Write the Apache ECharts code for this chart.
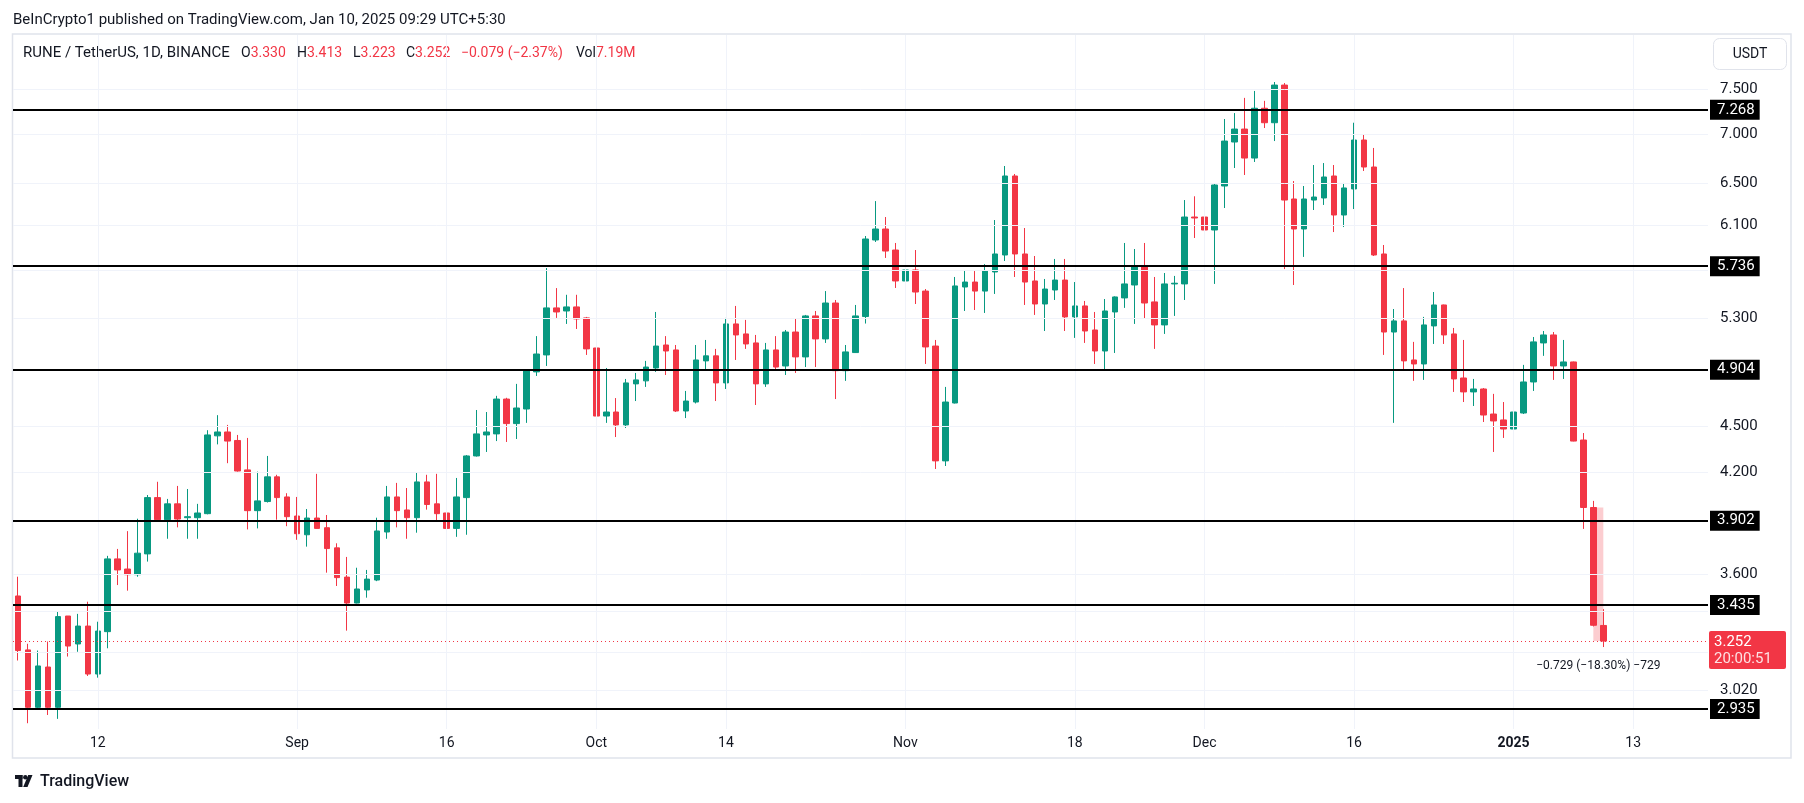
<!DOCTYPE html>
<html>
<head>
<meta charset="utf-8">
<script src="https://cdn.jsdelivr.net/npm/echarts/dist/echarts.min.js"></script>
<style>html,body{margin:0;padding:0;background:#fff;}#c{width:1804px;height:803px;}</style>
</head>
<body>
<div id="c"></div>
<script>
// ---------- DATA ----------
const startDay = [2024, 7, 4];      // 2024-08-04 (month 0-based)
const dayCount = 170;               // category slots up to 2025-01-20
const dates = [];
for (let i = 0; i < dayCount; i++) {
  const d = new Date(Date.UTC(startDay[0], startDay[1], startDay[2]) + i * 86400000);
  dates.push(d.toISOString().slice(0, 10));
}
const opens = [
3.482,3.209,2.942,3.127,2.942,3.378,3.238,3.327,3.094,3.299,
3.683,3.627,3.596,3.711,4.041,3.908,4.003,3.920,3.920,3.944,
4.437,4.463,4.406,4.214,3.962,4.017,4.170,4.045,3.930,3.820,
3.918,3.861,3.745,3.583,3.445,3.514,3.567,3.836,4.045,3.966,
3.920,4.138,4.003,3.948,3.857,4.041,4.304,4.443,4.450,4.691,
4.520,4.621,4.888,5.015,5.385,5.360,5.393,5.304,5.068,4.572,
4.600,4.511,4.800,4.822,4.917,5.091,5.053,4.607,4.670,4.970,
5.008,4.807,5.256,5.177,5.107,4.800,5.053,4.932,5.192,5.000,
5.320,5.138,5.425,4.897,5.033,5.315,5.968,6.068,5.878,5.609,
5.703,5.524,5.083,4.272,4.663,5.558,5.600,5.524,5.686,5.834,
6.575,5.843,5.609,5.417,5.533,5.617,5.312,5.401,5.208,5.045,
5.352,5.467,5.575,5.737,5.434,5.248,5.584,5.584,6.179,6.179,
6.059,6.476,6.922,7.059,6.756,7.285,7.127,7.545,6.350,6.068,
6.340,6.360,6.575,6.198,6.447,6.943,6.665,5.843,5.192,5.280,
4.977,4.947,5.240,5.409,5.177,4.843,4.742,4.763,4.586,4.545,
4.483,4.593,4.814,5.107,5.169,4.932,4.962,4.409,3.981,3.330];
const closes = [
3.206,2.942,3.132,2.942,3.375,3.228,3.327,3.094,3.302,3.683,
3.622,3.596,3.715,4.041,3.908,4.003,3.912,3.926,3.948,4.443,
4.463,4.402,4.207,3.962,4.021,4.170,4.041,3.926,3.826,3.918,
3.857,3.741,3.580,3.445,3.519,3.572,3.842,4.045,3.962,3.920,
4.138,3.999,3.944,3.857,4.045,4.304,4.450,4.463,4.691,4.520,
4.628,4.895,5.022,5.385,5.352,5.393,5.296,5.061,4.572,4.600,
4.511,4.807,4.829,4.924,5.083,5.045,4.607,4.677,4.977,5.008,
4.807,5.256,5.169,5.099,4.800,5.053,4.924,5.192,5.000,5.320,
5.138,5.425,4.897,5.038,5.320,5.977,6.068,5.869,5.609,5.703,
5.516,5.076,4.272,4.670,5.567,5.600,5.524,5.694,5.843,6.575,
5.843,5.600,5.417,5.541,5.617,5.312,5.401,5.200,5.045,5.360,
5.475,5.584,5.737,5.425,5.248,5.584,5.590,6.179,6.170,6.059,
6.486,6.932,7.059,6.756,7.285,7.127,7.545,6.340,6.068,6.350,
6.369,6.565,6.198,6.457,6.943,6.665,5.834,5.192,5.280,4.970,
4.947,5.248,5.409,5.169,4.836,4.742,4.763,4.579,4.538,4.483,
4.600,4.814,5.115,5.169,4.932,4.962,4.402,3.981,3.331,3.252];
const lows = [
3.158,2.872,2.935,2.908,2.891,3.177,3.200,3.085,3.077,3.217,
3.540,3.510,3.585,3.668,3.905,3.797,3.863,3.797,3.797,3.940,
4.380,4.257,4.203,3.851,3.857,4.011,3.908,3.870,3.791,3.752,
3.855,3.607,3.535,3.304,3.443,3.473,3.561,3.797,3.863,3.797,
3.832,3.968,3.902,3.802,3.808,3.820,4.300,4.330,4.402,4.396,
4.416,4.525,4.858,4.932,5.304,5.256,5.216,5.015,4.490,4.525,
4.429,4.490,4.677,4.778,4.888,4.865,4.600,4.558,4.660,4.895,
4.677,4.763,4.977,5.061,4.649,4.778,4.909,4.865,4.880,4.924,
4.924,5.107,4.691,4.822,5.030,5.259,5.950,5.808,5.550,5.476,
5.417,4.947,4.220,4.239,4.660,5.360,5.368,5.344,5.500,5.781,
5.643,5.409,5.328,5.200,5.450,5.200,5.146,5.107,4.947,4.909,
5.030,5.385,5.256,5.296,5.061,5.177,5.320,5.450,5.986,5.941,
5.584,6.264,6.655,6.585,6.716,7.070,6.932,5.711,5.575,5.817,
6.245,6.293,6.040,6.086,6.254,6.625,5.825,5.015,4.525,4.909,
4.822,4.829,5.099,5.099,4.742,4.670,4.642,4.531,4.330,4.423,
4.337,4.586,4.749,5.008,4.829,4.836,4.400,3.854,3.325,3.223];
const highs = [
3.585,3.239,3.206,3.250,3.400,3.378,3.389,3.452,3.349,3.700,
3.739,3.841,3.914,4.057,4.139,4.033,4.113,4.094,4.003,4.475,
4.578,4.511,4.443,4.423,4.203,4.304,4.183,4.068,4.045,3.972,
4.189,3.936,3.771,3.694,3.634,3.622,3.920,4.113,4.132,4.100,
4.195,4.183,4.189,4.063,4.163,4.310,4.614,4.600,4.714,4.700,
4.800,4.909,5.160,5.720,5.549,5.493,5.493,5.312,5.376,4.917,
4.698,4.836,4.880,4.970,5.352,5.160,5.091,4.749,5.091,5.130,
5.061,5.304,5.401,5.288,5.169,5.107,5.160,5.208,5.296,5.328,
5.360,5.524,5.450,5.091,5.409,6.004,6.330,6.179,5.941,5.834,
5.878,5.541,5.130,4.778,5.643,5.703,5.694,5.754,6.151,6.675,
6.595,6.077,5.825,5.626,5.799,5.799,5.600,5.442,5.352,5.458,
5.480,5.941,5.887,5.941,5.643,5.677,5.652,6.340,6.376,6.254,
6.496,7.167,7.232,7.400,7.478,7.367,7.580,7.568,6.525,6.476,
6.685,6.705,6.685,6.506,7.127,6.996,6.860,5.923,5.376,5.549,
5.115,5.312,5.516,5.412,5.224,5.130,4.836,4.770,4.728,4.670,
4.642,4.940,5.153,5.200,5.192,5.130,4.965,4.456,4.021,3.413];

const levels = [7.268, 5.736, 4.904, 3.902, 3.435, 2.935];
const yGridTicks = [7.5, 7.0, 6.5, 6.1, 5.7, 5.3, 4.9, 4.5, 4.2, 3.9, 3.6, 3.4, 3.2, 3.02];
const yLabelTicks = [7.5, 7.0, 6.5, 6.1, 5.3, 4.5, 4.2, 3.6, 3.02];
const xTicks = ['2024-08-12','2024-09-01','2024-09-16','2024-10-01','2024-10-14','2024-11-01','2024-11-18','2024-12-01','2024-12-16','2025-01-01','2025-01-13'];
const xTickLabels = ['12','Sep','16','Oct','14','Nov','18','Dec','16','2025','13'];
const measureFrom = ['2025-01-09', 3.981];
const measureTo = ['2025-01-10', 3.252];
const measureText = '\u22120.729 (\u221218.30%) \u2212729';
const countdownText = '20:00:51';
const volText = '7.19M';
const titleText = 'BeInCrypto1 published on TradingView.com, Jan 10, 2025 09:29 UTC+5:30';
const symbolText = 'RUNE / TetherUS, 1D, BINANCE';

// ---------- CHART ----------
const UP = '#089981', DOWN = '#F23645', INK = '#131722', GRID = '#f0f3fa';
const FONT = 'Roboto';
const candles = opens.map((o, i) => [o, closes[i], lows[i], highs[i]]);
const xLabelMap = {};
xTicks.forEach((d, i) => { xLabelMap[d] = xTickLabels[i]; });

const chart = echarts.init(document.getElementById('c'), null, { renderer: 'canvas', width: 1804, height: 803 });

chart.setOption({
  animation: false,
  backgroundColor: '#ffffff',
  grid: { left: 13, right: 96, top: 35, bottom: 74, containLabel: false },
  xAxis: {
    type: 'category',
    data: dates,
    boundaryGap: true,
    axisLine: { show: false },
    axisTick: { show: false },
    splitLine: { show: false },
    axisLabel: {
      interval: (i, v) => xLabelMap[v] !== undefined,
      formatter: (v) => v === '2025-01-01' ? '{b|2025}' : (xLabelMap[v] || ''),
      color: INK, fontSize: 14, fontFamily: FONT, margin: 7,
      rich: { b: { fontWeight: 'bold', fontSize: 14, fontFamily: FONT, color: INK } }
    }
  },
  yAxis: {
    type: 'log',
    logBase: 10,
    min: 2.847,
    max: 8.139,
    position: 'right',
    axisLine: { show: false },
    axisTick: { show: false },
    axisLabel: { show: false },
    splitLine: { show: false }
  },
  series: [
    {
      name: 'grid',
      type: 'line',
      data: [],
      z: 1,
      silent: true,
      markLine: {
        silent: true,
        symbol: 'none',
        animation: false,
        precision: 3,
        lineStyle: { color: GRID, width: 1, type: 'solid' },
        data: yGridTicks.map(v => ({
          yAxis: v,
          label: {
            show: yLabelTicks.indexOf(v) >= 0,
            position: 'end', distance: 12,
            formatter: v.toFixed(3),
            color: INK, fontSize: 15, fontFamily: FONT
          }
        })).concat(xTicks.map(d => ({ xAxis: d, label: { show: false } })))
      }
    },
    {
      name: 'RUNE',
      type: 'candlestick',
      data: candles,
      z: 3,
      barWidth: 6,
      itemStyle: { color: UP, color0: DOWN, borderColor: UP, borderColor0: DOWN, borderWidth: 1 },
      markLine: {
        silent: true,
        symbol: 'none',
        animation: false,
        precision: 3,
        data: [{ yAxis: closes[closes.length - 1] }],
        lineStyle: { color: DOWN, width: 1, type: [1, 3] },
        label: { show: false }
      },
      markArea: {
        silent: true,
        itemStyle: { color: 'rgba(242,54,69,0.25)' },
        label: {
          show: true, position: 'bottom', distance: 19,
          formatter: measureText, color: INK, fontSize: 12, fontFamily: FONT
        },
        data: [[{ coord: measureFrom }, { coord: measureTo }]]
      }
    },
    {
      name: 'levels',
      type: 'line',
      data: [],
      z: 5,
      silent: true,
      markLine: {
        silent: true,
        symbol: 'none',
        animation: false,
        precision: 3,
        lineStyle: { color: '#000000', width: 2, type: 'solid' },
        label: {
          show: true, position: 'end', distance: 2,
          formatter: '{b}',
          color: '#ffffff', backgroundColor: '#000000',
          padding: [3, 5, 2, 7], fontSize: 15, fontFamily: FONT
        },
        data: levels.map(v => ({ yAxis: v, name: v.toFixed(3) }))
      }
    }
  ]
});

// ---------- Texts & frame (positions from the scale) ----------
const last = closes.length - 1;
const priceY = chart.convertToPixel({ yAxisIndex: 0 }, closes[last]);
const chg = closes[last] - closes[last - 1];
const pct = chg / closes[last - 1] * 100;
const fmtSigned = (v, d) => (v < 0 ? '\u2212' : '+') + Math.abs(v).toFixed(d);
const redRich = { k: { fill: INK, color: INK, fontSize: 14, fontFamily: FONT }, v: { fill: DOWN, color: DOWN, fontSize: 14, fontFamily: FONT } };
const LY = 53;

chart.setOption({
  graphic: [
    { type: 'rect', z: -10, silent: true, shape: { x: 12.5, y: 34, width: 1778.5, height: 724 }, style: { fill: 'none', stroke: '#e0e3eb', lineWidth: 1.5 } },
    { type: 'text', x: 13, y: 20, silent: true, style: { text: titleText, fill: INK, fontSize: 15, fontFamily: FONT, verticalAlign: 'middle' } },
    { type: 'text', x: 23, y: LY, silent: true, style: { text: symbolText, fill: INK, fontSize: 15, fontFamily: FONT, verticalAlign: 'middle' } },
    { type: 'text', x: 241, y: LY, silent: true, style: { text: '{k|O}{v|' + opens[last].toFixed(3) + '}', rich: redRich, verticalAlign: 'middle' } },
    { type: 'text', x: 297, y: LY, silent: true, style: { text: '{k|H}{v|' + highs[last].toFixed(3) + '}', rich: redRich, verticalAlign: 'middle' } },
    { type: 'text', x: 353, y: LY, silent: true, style: { text: '{k|L}{v|' + lows[last].toFixed(3) + '}', rich: redRich, verticalAlign: 'middle' } },
    { type: 'text', x: 406, y: LY, silent: true, style: { text: '{k|C}{v|' + closes[last].toFixed(3) + '}', rich: redRich, verticalAlign: 'middle' } },
    { type: 'text', x: 461, y: LY, silent: true, style: { text: '{v|' + fmtSigned(chg, 3) + ' (' + fmtSigned(pct, 2) + '%)}', rich: redRich, verticalAlign: 'middle' } },
    { type: 'text', x: 576, y: LY, silent: true, style: { text: '{k|Vol}{v|' + volText + '}', rich: redRich, verticalAlign: 'middle' } },
    // USDT box
    { type: 'rect', silent: true, shape: { x: 1713.5, y: 38.5, width: 73, height: 31, r: 6 }, style: { fill: '#ffffff', stroke: '#e0e3eb', lineWidth: 1 } },
    { type: 'text', x: 1750, y: 54, silent: true, style: { text: 'USDT', fill: INK, fontSize: 14, fontFamily: FONT, align: 'center', verticalAlign: 'middle' } },
    // last price label
    { type: 'rect', silent: true, z: 20, shape: { x: 1709, y: priceY - 10, width: 77, height: 38, r: 2 }, style: { fill: DOWN } },
    { type: 'text', x: 1714, y: priceY + 1, z: 21, silent: true, style: { text: closes[last].toFixed(3), fill: '#ffffff', fontSize: 15, fontFamily: FONT, verticalAlign: 'middle' } },
    { type: 'text', x: 1714, y: priceY + 18, z: 21, silent: true, style: { text: countdownText, fill: 'rgba(255,255,255,0.85)', fontSize: 15, fontFamily: FONT, verticalAlign: 'middle' } },
    // TradingView logo
    { type: 'group', x: 15, y: 775, silent: true, children: [
      { type: 'rect', shape: { x: 0, y: 0, width: 7.5, height: 4 }, style: { fill: INK } },
      { type: 'rect', shape: { x: 3.5, y: 0, width: 4, height: 12 }, style: { fill: INK } },
      { type: 'circle', shape: { cx: 10.3, cy: 2.2, r: 2.2 }, style: { fill: INK } },
      { type: 'polygon', shape: { points: [[13.2, 0], [17.5, 0], [12.5, 12], [8.2, 12]] }, style: { fill: INK } }
    ] },
    { type: 'text', x: 40, y: 782, silent: true, style: { text: 'TradingView', fill: INK, fontSize: 16, fontWeight: 500, fontFamily: FONT, verticalAlign: 'middle' } }
  ]
});
</script>
</body>
</html>
